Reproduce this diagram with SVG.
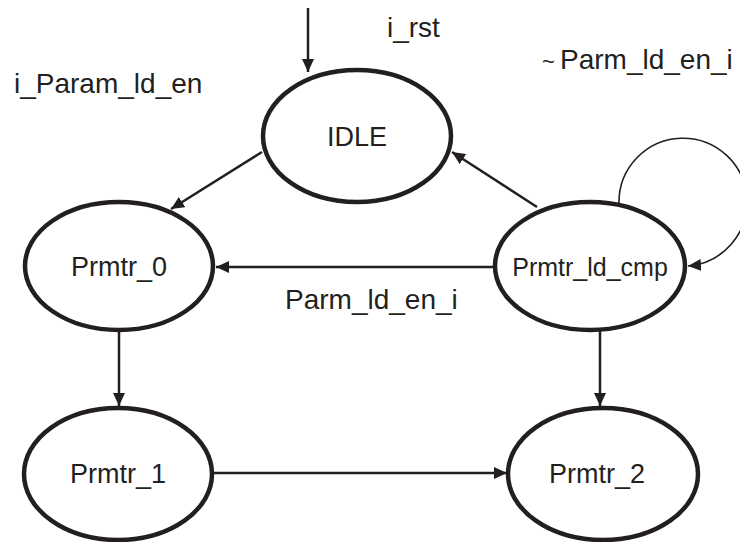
<svg xmlns="http://www.w3.org/2000/svg" width="740" height="542" viewBox="0 0 740 542">
<style>
.node ellipse{fill:#fff;stroke:#231f20;stroke-width:4.5}
.node text{font-family:"Liberation Sans",Arial,sans-serif;font-size:27px;fill:#231f20;text-anchor:middle}
.lbl{font-family:"Liberation Sans",Arial,sans-serif;font-size:28px;fill:#231f20}
.edge{fill:none;stroke:#231f20;stroke-width:2.5;marker-end:url(#arr)}
.thin{fill:none;stroke:#231f20;stroke-width:1.6;marker-end:url(#arr)}
</style>
<defs>
<marker id="arr" markerUnits="userSpaceOnUse" markerWidth="14" markerHeight="12" refX="13" refY="6" orient="auto">
<path d="M0,0 L13,6 L0,12 z" fill="#231f20"/>
</marker>
</defs>
<rect width="740" height="542" fill="#fff"/>
<g id="connectors">
<line class="edge" x1="308" y1="8" x2="308" y2="72"/>
<line class="edge" x1="262" y1="152" x2="171" y2="209"/>
<line class="edge" x1="537" y1="207" x2="452" y2="152"/>
<line class="edge" x1="497" y1="267" x2="216" y2="267"/>
<path class="thin" d="M619 203 A64 64 0 1 1 688 266"/>
<line class="edge" x1="119" y1="331" x2="119" y2="406"/>
<line class="edge" x1="600" y1="331" x2="600" y2="406"/>
<line class="edge" x1="213" y1="473" x2="507" y2="473"/>
</g>
<g id="labels">
<text class="lbl" x="387" y="37">i_rst</text>
<text class="lbl" x="14" y="93">i_Param_ld_en</text>
<text class="lbl" x="542" y="69"><tspan font-size="22">~</tspan><tspan x="560">Parm_ld_en_i</tspan></text>
<text class="lbl" x="285" y="309">Parm_ld_en_i</text>
</g>
<g id="IDLE" class="node">
<ellipse cx="357" cy="136" rx="94" ry="66"/>
<text x="357" y="146">IDLE</text>
</g>
<g id="Prmtr_0" class="node">
<ellipse cx="119" cy="266" rx="94" ry="64"/>
<text x="119" y="276">Prmtr_0</text>
</g>
<g id="Prmtr_ld_cmp" class="node">
<ellipse cx="590" cy="266" rx="95" ry="64"/>
<text x="590" y="276" style="font-size:25px">Prmtr_ld_cmp</text>
</g>
<g id="Prmtr_1" class="node">
<ellipse cx="118" cy="474" rx="94" ry="66"/>
<text x="118" y="483">Prmtr_1</text>
</g>
<g id="Prmtr_2" class="node">
<ellipse cx="603" cy="474" rx="95" ry="66"/>
<text x="597" y="483">Prmtr_2</text>
</g>
</svg>
